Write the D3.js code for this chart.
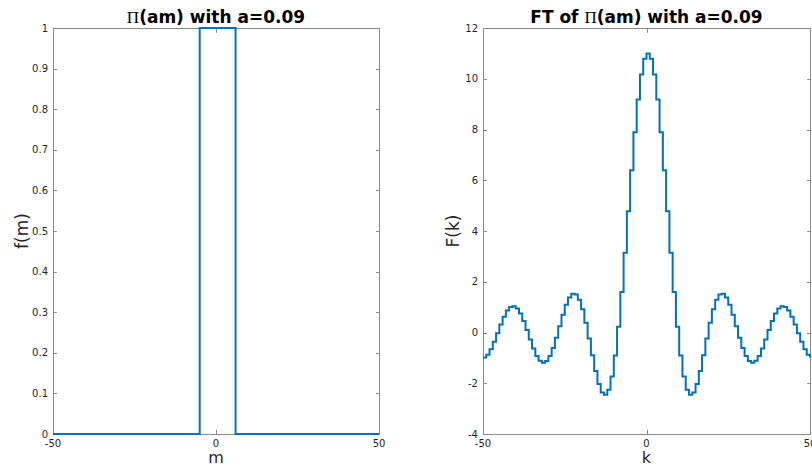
<!DOCTYPE html>
<html><head><meta charset="utf-8">
<script src="https://cdn.jsdelivr.net/npm/d3@7"></script>
<style>body{margin:0;background:#fff}svg{display:block}</style>
</head><body>
<svg id="c" width="812" height="467"></svg>
<script>
// ---- data ----
const mValues = [-50,-49,-48,-47,-46,-45,-44,-43,-42,-41,-40,-39,-38,-37,-36,-35,-34,-33,-32,-31,-30,-29,-28,-27,-26,-25,-24,-23,-22,-21,-20,-19,-18,-17,-16,-15,-14,-13,-12,-11,-10,-9,-8,-7,-6,-5,-4,-3,-2,-1,0,1,2,3,4,5,6,7,8,9,10,11,12,13,14,15,16,17,18,19,20,21,22,23,24,25,26,27,28,29,30,31,32,33,34,35,36,37,38,39,40,41,42,43,44,45,46,47,48,49,50];
const fValues = [0,0,0,0,0,0,0,0,0,0,0,0,0,0,0,0,0,0,0,0,0,0,0,0,0,0,0,0,0,0,0,0,0,0,0,0,0,0,0,0,0,0,0,0,0,1,1,1,1,1,1,1,1,1,1,1,0,0,0,0,0,0,0,0,0,0,0,0,0,0,0,0,0,0,0,0,0,0,0,0,0,0,0,0,0,0,0,0,0,0,0,0,0,0,0,0,0,0,0,0,0];
const kValues = mValues.slice();
const FValues = [-0.986,-0.872,-0.658,-0.367,-0.031,0.311,0.620,0.863,1.008,1.039,0.950,0.749,0.456,0.102,-0.274,-0.629,-0.923,-1.118,-1.190,-1.126,-0.927,-0.609,-0.203,0.249,0.697,1.089,1.379,1.525,1.499,1.291,0.912,0.388,-0.234,-0.894,-1.514,-2.030,-2.363,-2.453,-2.254,-1.737,-0.903,0.225,1.601,3.140,4.778,6.393,7.894,9.179,10.166,10.788,
11,
10.788,10.166,9.179,7.894,6.393,4.778,3.140,1.601,0.225,-0.903,-1.737,-2.254,-2.453,-2.363,-2.030,-1.514,-0.894,-0.234,0.388,0.912,1.291,1.499,1.525,1.379,1.089,0.697,0.249,-0.203,-0.609,-0.927,-1.126,-1.190,-1.118,-0.923,-0.629,-0.274,0.102,0.456,0.749,0.950,1.039,1.008,0.863,0.620,0.311,-0.031,-0.367,-0.658,-0.872,-0.986];
const xTicks = [-50, 0, 50];
const yTicksLeft = [0,0.1,0.2,0.3,0.4,0.5,0.6,0.7,0.8,0.9,1];
const yTicksRight = [-4,-2,0,2,4,6,8,10,12];

const svg = d3.select('#c');
const FONT = 'DejaVu Sans, sans-serif';
const TXT = '#262626', AX = '#8a8a8a', LINE = '#0072BD';

function panel(opts){
  const {x0,x1,y0,y1,ys,yTicks,data,xlab,ylab,ylabX,titlePre,titlePost} = opts;
  const g = svg.append('g');
  const x = d3.scaleLinear().domain([-50,50]).range([x0,x1]);
  const y = d3.scaleLinear().domain(ys).range([y1,y0]);
  g.append('rect').attr('x',x0+0.5).attr('y',y0+0.5).attr('width',x1-x0).attr('height',y1-y0)
    .attr('fill','none').attr('stroke',AX).attr('stroke-width',1);
  const tl = 4;
  yTicks.forEach(v=>{
    const yy = Math.round(y(v))+0.5;
    g.append('line').attr('x1',x0).attr('x2',x0+tl).attr('y1',yy).attr('y2',yy).attr('stroke',AX);
    g.append('line').attr('x1',x1-tl+1).attr('x2',x1+1).attr('y1',yy).attr('y2',yy).attr('stroke',AX);
    g.append('text').attr('x',x0-5).attr('y',y(v)+3.5).attr('text-anchor','end')
      .attr('font-family',FONT).attr('font-size',10).attr('fill',TXT).text(v);
  });
  xTicks.forEach(v=>{
    const xx = Math.round(x(v))+0.5;
    g.append('line').attr('x1',xx).attr('x2',xx).attr('y1',y1).attr('y2',y1-tl).attr('stroke',AX);
    g.append('line').attr('x1',xx).attr('x2',xx).attr('y1',y0+1).attr('y2',y0+tl+1).attr('stroke',AX);
    g.append('text').attr('x',x(v)).attr('y',y1+12.5).attr('text-anchor','middle')
      .attr('font-family',FONT).attr('font-size',10).attr('fill',TXT).text(v);
  });
  const line = d3.line().x(d=>x(d[0])).y(d=>y(d[1])).curve(d3.curveStepAfter);
  g.append('path').datum(data).attr('d',line).attr('fill','none').attr('stroke',LINE)
    .attr('stroke-width',2);
  g.append('text').attr('x',(x0+x1)/2).attr('y',463).attr('text-anchor','middle')
    .attr('font-family',FONT).attr('font-size',16).attr('fill',TXT).text(xlab);
  g.append('text').attr('transform',`translate(${ylabX},${(y0+y1)/2}) rotate(-90)`).attr('text-anchor','middle')
    .attr('font-family',FONT).attr('font-size',17).attr('fill',TXT).text(ylab);
  const t = g.append('text').attr('x',(x0+x1)/2).attr('y',y0-5).attr('text-anchor','middle')
    .attr('font-family',FONT).attr('font-size',17).attr('font-weight','bold').attr('fill','#000');
  if (titlePre) t.append('tspan').text(titlePre);
  t.append('tspan').attr('font-family','Liberation Serif, serif').attr('font-weight','normal').text('Π');
  t.append('tspan').text(titlePost);
}

panel({x0:53,x1:379,y0:28,y1:434,ys:[0,1],yTicks:yTicksLeft,
  data:mValues.map((m,i)=>[m,fValues[i]]),xlab:'m',ylab:'f(m)',ylabX:28,
  titlePre:'',titlePost:'(am) with a=0.09'});
panel({x0:483,x1:810,y0:28,y1:434,ys:[-4,12],yTicks:yTicksRight,
  data:kValues.map((k,i)=>[k,FValues[i]]),xlab:'k',ylab:'F(k)',ylabX:459,
  titlePre:'FT of ',titlePost:'(am) with a=0.09'});
</script>
</body></html>
